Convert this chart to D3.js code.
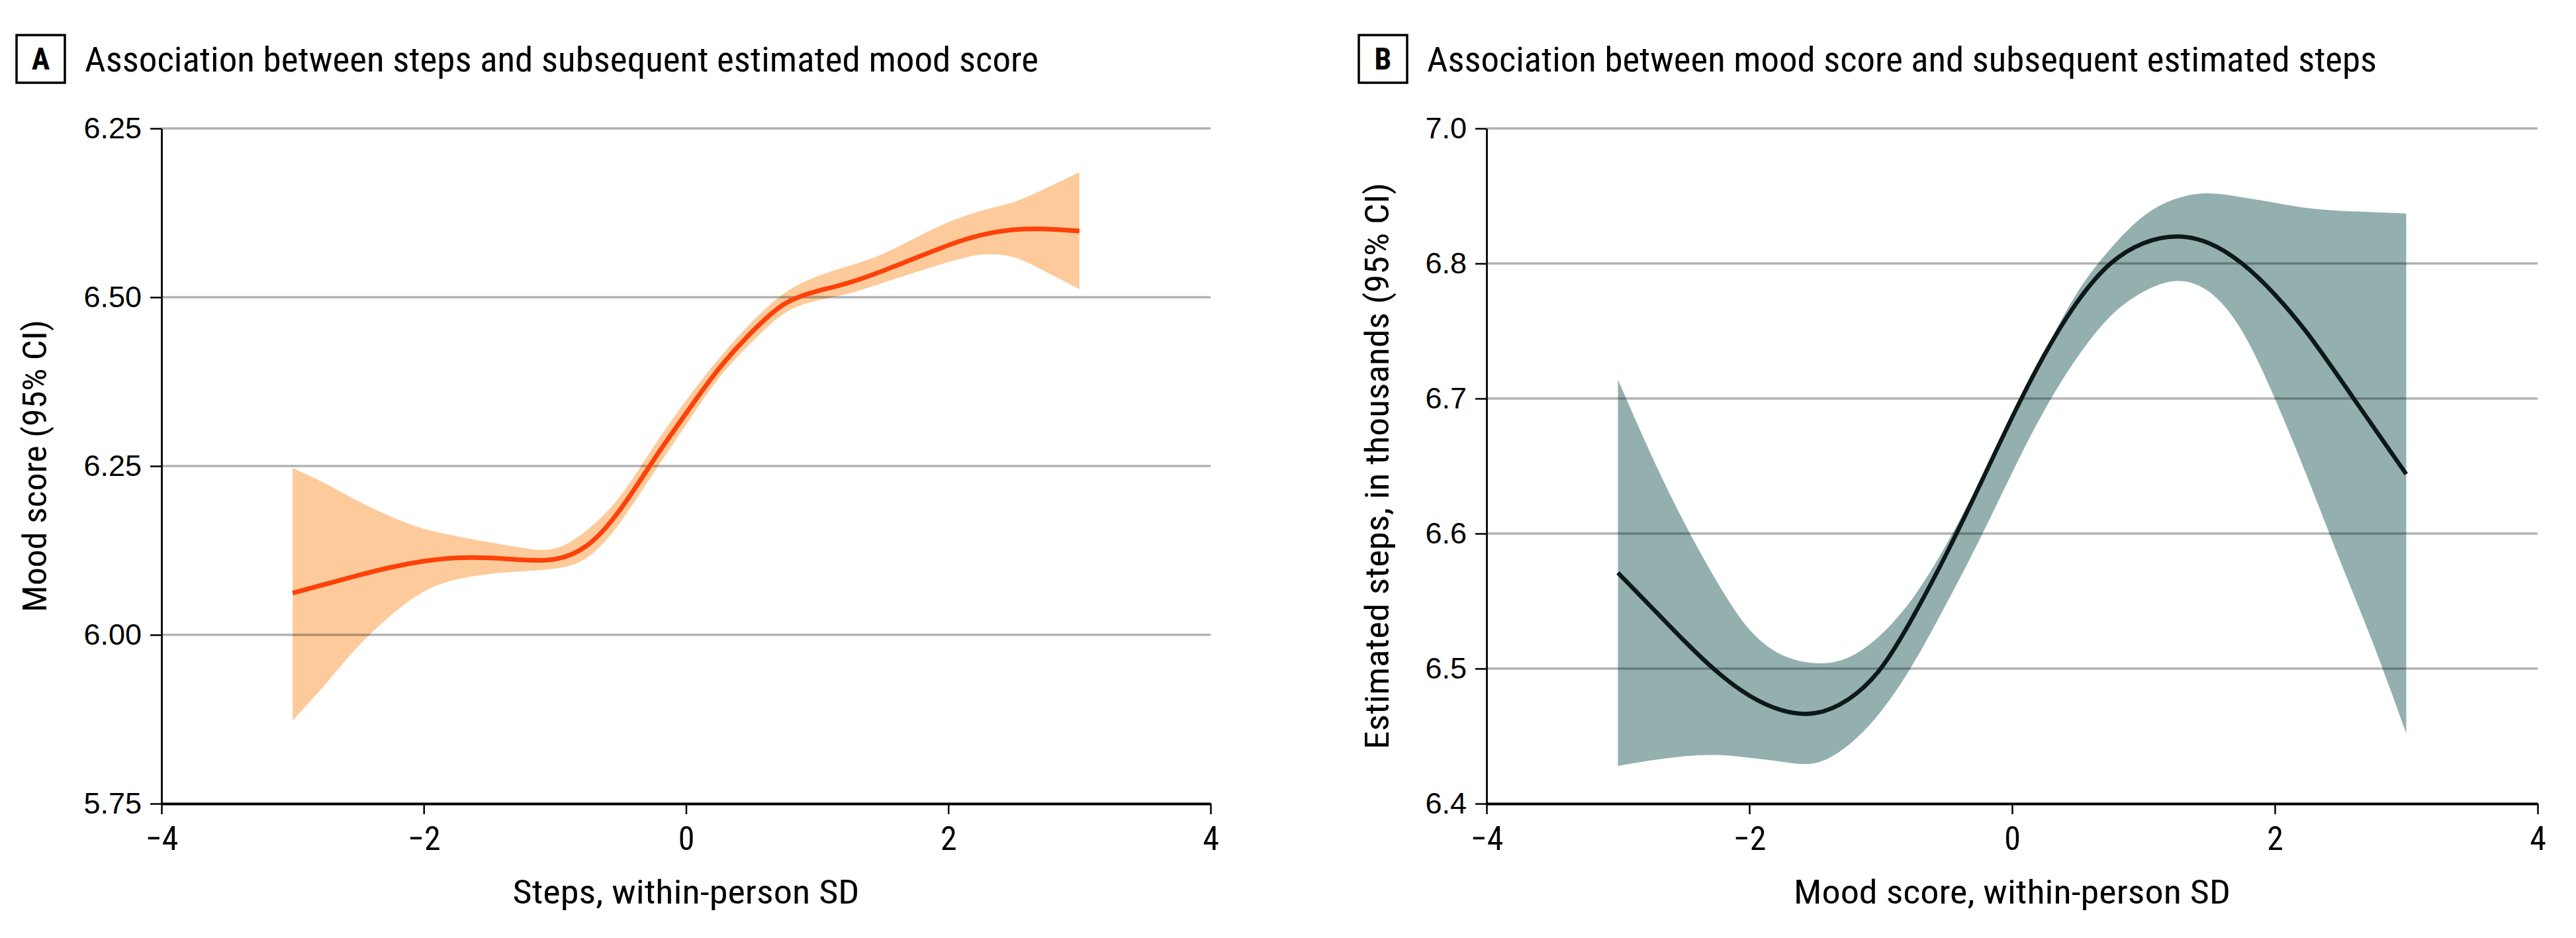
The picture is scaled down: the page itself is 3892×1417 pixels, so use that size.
<!DOCTYPE html>
<html>
<head>
<meta charset="utf-8">
<script src="https://cdn.jsdelivr.net/npm/d3@7"></script>
<style>
  body { margin: 0; background: #fff; }
  svg { display: block; }
</style>
</head>
<body>
<svg width="3892" height="1417"></svg>
<script>
const svg = d3.select('svg');

const condFont = '"Roboto Condensed", "DejaVu Sans Condensed", "Liberation Sans Narrow", "Open Sans", sans-serif';
const tickFont = '"Liberation Sans", Arial, sans-serif';

// x values shared by both panels (within-person SD)
const xValues = [-3, -2.75, -2.5, -2.25, -2, -1.75, -1.5, -1.25, -1, -0.75, -0.5, -0.25,
                 0, 0.25, 0.5, 0.75, 1, 1.25, 1.5, 1.75, 2, 2.25, 2.5, 2.75, 3];

// panel A: steps -> estimated mood score
const moodFit   = [6.062, 6.075, 6.088, 6.100, 6.109, 6.114, 6.114, 6.111, 6.112, 6.133, 6.186, 6.258,
                   6.328, 6.394, 6.448, 6.490, 6.509, 6.522, 6.539, 6.558, 6.577, 6.592, 6.600, 6.601, 6.598];
const moodUpper = [6.247, 6.224, 6.198, 6.175, 6.157, 6.146, 6.137, 6.129, 6.128, 6.156, 6.206, 6.278,
                   6.347, 6.409, 6.463, 6.506, 6.531, 6.547, 6.564, 6.588, 6.611, 6.628, 6.641, 6.662, 6.685];
const moodLower = [5.873, 5.927, 5.983, 6.029, 6.064, 6.082, 6.090, 6.094, 6.098, 6.115, 6.167, 6.239,
                   6.311, 6.380, 6.433, 6.476, 6.495, 6.506, 6.521, 6.537, 6.552, 6.563, 6.559, 6.537, 6.512];

// panel B: mood score -> estimated steps (thousands)
const stepsFit   = [6.571, 6.546, 6.521, 6.498, 6.480, 6.469, 6.467, 6.477, 6.500, 6.539, 6.585, 6.635,
                    6.686, 6.733, 6.772, 6.800, 6.815, 6.820, 6.815, 6.800, 6.777, 6.748, 6.714, 6.679, 6.644];
const stepsUpper = [6.714, 6.659, 6.609, 6.565, 6.529, 6.510, 6.504, 6.508, 6.525, 6.553, 6.592, 6.638,
                    6.687, 6.735, 6.779, 6.811, 6.835, 6.848, 6.852, 6.849, 6.845, 6.841, 6.839, 6.838, 6.837];
const stepsLower = [6.428, 6.432, 6.435, 6.436, 6.434, 6.431, 6.430, 6.443, 6.468, 6.504, 6.548, 6.595,
                    6.645, 6.692, 6.731, 6.761, 6.779, 6.787, 6.779, 6.750, 6.700, 6.641, 6.579, 6.518, 6.452];

// ticks (labels as printed in the figure)
const xTicks = [-4, -2, 0, 2, 4];
const yTicksA = [5.75, 6.00, 6.25, 6.50, 6.75];
const yLabelsA = ["5.75", "6.00", "6.25", "6.50", "6.25"];
const yTicksB = [6.4, 6.5, 6.6, 6.7, 6.8, 6.9];
const yLabelsB = ["6.4", "6.5", "6.6", "6.7", "6.8", "7.0"];

const panels = [
  {
    letter: "A",
    title: "Association between steps and subsequent estimated mood score",
    xLabel: "Steps, within-person SD",
    yLabel: "Mood score (95% CI)",
    left: 244, right: 1829, boxX: 25, titleW: 1441, xLabelW: 524, yLabelW: 442, yLabelX: 70,
    yDomain: [5.75, 6.75], yTicks: yTicksA, yLabels: yLabelsA,
    fit: moodFit, upper: moodUpper, lower: moodLower,
    band: "#fdcb9b", line: "#fd4109", lineW: 7
  },
  {
    letter: "B",
    title: "Association between mood score and subsequent estimated steps",
    xLabel: "Mood score, within-person SD",
    yLabel: "Estimated steps, in thousands (95% CI)",
    left: 2246, right: 3834, boxX: 2053, titleW: 1435, xLabelW: 660, yLabelW: 856, yLabelX: 2098,
    yDomain: [6.4, 6.9], yTicks: yTicksB, yLabels: yLabelsB,
    fit: stepsFit, upper: stepsUpper, lower: stepsLower,
    band: "#93b0af", line: "#0d1919", lineW: 6.5
  }
];

const plotTop = 194, plotBottom = 1214;

panels.forEach(p => {
  const x = d3.scaleLinear().domain([-4, 4]).range([p.left, p.right]);
  const y = d3.scaleLinear().domain(p.yDomain).range([plotBottom, plotTop]);
  const rows = xValues.map((v, i) => ({x: v, fit: p.fit[i], lo: p.lower[i], hi: p.upper[i]}));

  // confidence band
  svg.append("path")
    .datum(rows)
    .attr("fill", p.band)
    .attr("d", d3.area()
      .curve(d3.curveNatural)
      .x(d => x(d.x))
      .y0(d => y(d.lo))
      .y1(d => y(d.hi)));

  // gridlines (semi transparent so they show through the band)
  svg.append("g")
    .selectAll("line")
    .data(p.yTicks.slice(1))
    .enter()
    .append("line")
      .attr("x1", x(-4))
      .attr("x2", x(4))
      .attr("y1", d => y(d))
      .attr("y2", d => y(d))
      .attr("stroke", "#000")
      .attr("stroke-opacity", 0.3)
      .attr("stroke-width", 3.5);

  // fitted line
  svg.append("path")
    .datum(rows)
    .attr("fill", "none")
    .attr("stroke", p.line)
    .attr("stroke-width", p.lineW)
    .attr("d", d3.line()
      .curve(d3.curveNatural)
      .x(d => x(d.x))
      .y(d => y(d.fit)));

  // x axis
  const gx = svg.append("g")
    .attr("transform", "translate(0," + plotBottom + ")")
    .call(d3.axisBottom(x).tickValues(xTicks).tickSize(16).tickSizeOuter(0).tickPadding(18)
      .tickFormat(d3.format("d")));
  gx.select(".domain").attr("stroke", "#000").attr("stroke-width", 4);
  gx.selectAll(".tick line").attr("stroke", "#000").attr("stroke-width", 2.5);
  gx.selectAll(".tick text")
    .attr("font-family", condFont)
    .attr("font-size", 50)
    .attr("fill", "#000");

  // y axis
  const gy = svg.append("g")
    .attr("transform", "translate(" + p.left + ",0)")
    .call(d3.axisLeft(y).tickValues(p.yTicks).tickSize(17).tickSizeOuter(0).tickPadding(13)
      .tickFormat((d, i) => p.yLabels[i]));
  gy.select(".domain").attr("stroke", "#000").attr("stroke-width", 2.8);
  gy.selectAll(".tick line").attr("stroke", "#000").attr("stroke-width", 2.5);
  gy.selectAll(".tick text")
    .attr("font-family", tickFont)
    .attr("font-size", 45)
    .attr("fill", "#000");

  // axis titles
  svg.append("text")
    .attr("x", (p.left + p.right) / 2)
    .attr("y", 1365)
    .attr("text-anchor", "middle")
    .attr("font-family", condFont)
    .attr("font-size", 50)
    .attr("textLength", p.xLabelW)
    .attr("lengthAdjust", "spacingAndGlyphs")
    .text(p.xLabel);

  svg.append("text")
    .attr("transform", "translate(" + p.yLabelX + "," + ((plotTop + plotBottom) / 2) + ") rotate(-90)")
    .attr("text-anchor", "middle")
    .attr("font-family", condFont)
    .attr("font-size", 50)
    .attr("textLength", p.yLabelW)
    .attr("lengthAdjust", "spacingAndGlyphs")
    .text(p.yLabel);

  // panel letter box + title
  svg.append("rect")
    .attr("x", p.boxX)
    .attr("y", 53)
    .attr("width", 73)
    .attr("height", 72)
    .attr("fill", "#fff")
    .attr("stroke", "#000")
    .attr("stroke-width", 3.5);

  svg.append("text")
    .attr("x", p.boxX + 36.5)
    .attr("y", 105)
    .attr("text-anchor", "middle")
    .attr("font-family", condFont)
    .attr("font-weight", "bold")
    .attr("font-size", 46)
    .text(p.letter);

  svg.append("text")
    .attr("x", p.boxX + 103)
    .attr("y", 108)
    .attr("font-family", condFont)
    .attr("font-size", 51)
    .attr("textLength", p.titleW)
    .attr("lengthAdjust", "spacingAndGlyphs")
    .text(p.title);
});
</script>
</body>
</html>
